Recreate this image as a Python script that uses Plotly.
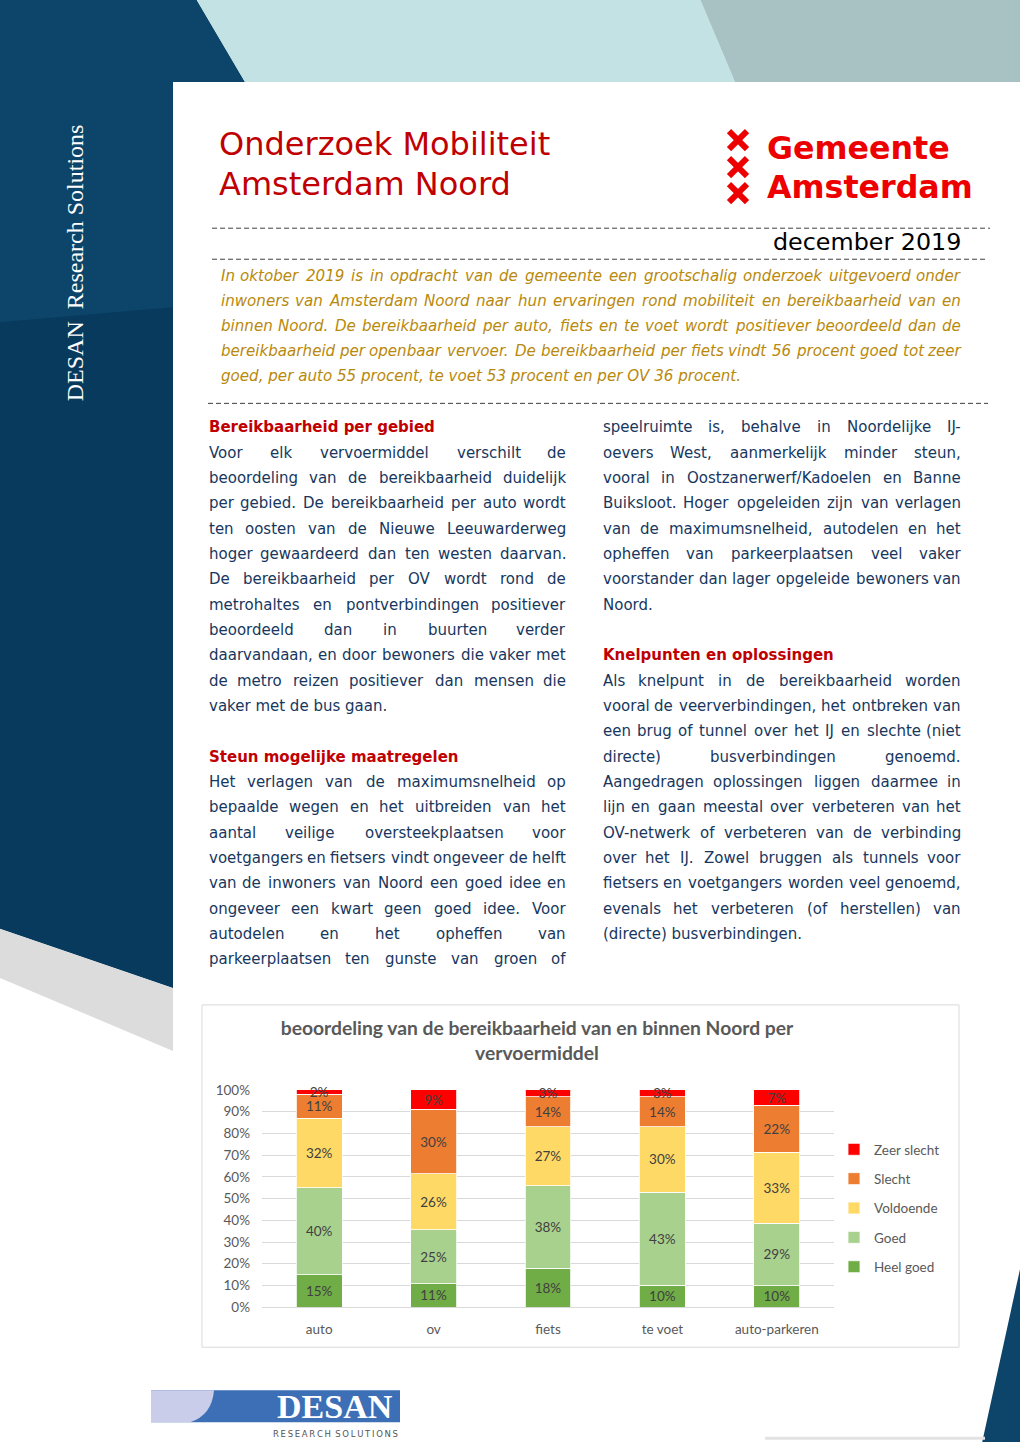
import plotly.graph_objects as go

# Page laid out in reference-pixel coordinates (1020 x 1442).
PAGE_W, PAGE_H = 1020, 1442
# vertical calibration of the photographed page (measured from earlier renders)
Y_OFF, Y_SCALE = 8.0, 0.988

# ------------------------------------------------------------------ data
categories = ["auto", "ov", "fiets", "te voet", "auto-parkeren"]
heel_goed = [15, 11, 18, 10, 10]
goed = [40, 25, 38, 43, 29]
voldoende = [32, 26, 27, 30, 33]
slecht = [11, 30, 14, 14, 22]
zeer_slecht = [2, 9, 3, 3, 7]
series_names = ["Heel goed", "Goed", "Voldoende", "Slecht", "Zeer slecht"]
series_values = [heel_goed, goed, voldoende, slecht, zeer_slecht]
series_colors = ["#70ad47", "#a9d18e", "#ffd966", "#ed7d31", "#ff0000"]
legend_ranks = [5, 4, 3, 2, 1]
y_tick_values = [0, 10, 20, 30, 40, 50, 60, 70, 80, 90, 100]
y_tick_labels = ["0%", "10%", "20%", "30%", "40%", "50%", "60%", "70%", "80%", "90%", "100%"]
chart_title = "beoordeling van de bereikbaarheid van en binnen Noord per<br>vervoermiddel"

title_lines = ["Onderzoek Mobiliteit", "Amsterdam Noord"]
logo_lines = ["Gemeente", "Amsterdam"]
date_text = "december 2019"
side_text = "DESAN  Research Solutions"
intro_lines = [
    "In oktober 2019 is in opdracht van de gemeente een grootschalig onderzoek uitgevoerd onder",
    "inwoners van Amsterdam Noord naar hun ervaringen rond mobiliteit en bereikbaarheid van en",
    "binnen Noord. De bereikbaarheid per auto, fiets en te voet wordt positiever beoordeeld dan de",
    "bereikbaarheid per openbaar vervoer. De bereikbaarheid per fiets vindt 56 procent goed tot zeer",
    "goed, per auto 55 procent, te voet 53 procent en per OV 36 procent.",
]
left_column = [
    ("h", "Bereikbaarheid per gebied"),
    ("j", "Voor elk vervoermiddel verschilt de"),
    ("j", "beoordeling van de bereikbaarheid duidelijk"),
    ("j", "per gebied. De bereikbaarheid per auto wordt"),
    ("j", "ten oosten van de Nieuwe Leeuwarderweg"),
    ("j", "hoger gewaardeerd dan ten westen daarvan."),
    ("j", "De bereikbaarheid per OV wordt rond de"),
    ("j", "metrohaltes en pontverbindingen positiever"),
    ("j", "beoordeeld dan in buurten verder"),
    ("j", "daarvandaan, en door bewoners die vaker met"),
    ("j", "de metro reizen positiever dan mensen die"),
    ("l", "vaker met de bus gaan."),
    ("", ""),
    ("h", "Steun mogelijke maatregelen"),
    ("j", "Het verlagen van de maximumsnelheid op"),
    ("j", "bepaalde wegen en het uitbreiden van het"),
    ("j", "aantal veilige oversteekplaatsen voor"),
    ("j", "voetgangers en fietsers vindt ongeveer de helft"),
    ("j", "van de inwoners van Noord een goed idee en"),
    ("j", "ongeveer een kwart geen goed idee. Voor"),
    ("j", "autodelen en het opheffen van"),
    ("j", "parkeerplaatsen ten gunste van groen of"),
]
right_column = [
    ("j", "speelruimte is, behalve in Noordelijke IJ-"),
    ("j", "oevers West, aanmerkelijk minder steun,"),
    ("j", "vooral in Oostzanerwerf/Kadoelen en Banne"),
    ("j", "Buiksloot. Hoger opgeleiden zijn van verlagen"),
    ("j", "van de maximumsnelheid, autodelen en het"),
    ("j", "opheffen van parkeerplaatsen veel vaker"),
    ("j", "voorstander dan lager opgeleide bewoners van"),
    ("l", "Noord."),
    ("", ""),
    ("h", "Knelpunten en oplossingen"),
    ("j", "Als knelpunt in de bereikbaarheid worden"),
    ("j", "vooral de veerverbindingen, het ontbreken van"),
    ("j", "een brug of tunnel over het IJ en slechte (niet"),
    ("j", "directe) busverbindingen genoemd."),
    ("j", "Aangedragen oplossingen liggen daarmee in"),
    ("j", "lijn en gaan meestal over verbeteren van het"),
    ("j", "OV-netwerk of verbeteren van de verbinding"),
    ("j", "over het IJ. Zowel bruggen als tunnels voor"),
    ("j", "fietsers en voetgangers worden veel genoemd,"),
    ("j", "evenals het verbeteren (of herstellen) van"),
    ("l", "(directe) busverbindingen."),
]

# ------------------------------------------------------------------ helpers
def px(x):
    return x / PAGE_W


def py(y):
    return 1 - ((y - Y_OFF) / Y_SCALE) / PAGE_H


CW = {" ": .318, ",": .318, ".": .318, "-": .361, "/": .337, "(": .390, ")": .390, "%": .950,
      "a": .613, "b": .635, "c": .550, "d": .635, "e": .615, "f": .352, "g": .635, "h": .634,
      "i": .278, "j": .278, "k": .579, "l": .278, "m": .974, "n": .634, "o": .612, "p": .635,
      "q": .635, "r": .411, "s": .521, "t": .392, "u": .634, "v": .592, "w": .818, "x": .592,
      "y": .592, "z": .525,
      "A": .684, "B": .686, "C": .698, "D": .770, "E": .632, "F": .575, "G": .775, "H": .752,
      "I": .295, "J": .295, "K": .656, "L": .557, "M": .863, "N": .748, "O": .787, "P": .603,
      "Q": .787, "R": .695, "S": .635, "T": .611, "U": .732, "V": .684, "W": .989, "X": .685,
      "Y": .611, "Z": .685}


def tw(s, size):
    return sum(CW.get(ch, .636) for ch in s) * size


annotations = []
shapes = []


def ann(text, x, y, size, color, family="DejaVu Sans", xanchor="left", angle=0):
    annotations.append(dict(text=text, x=px(x), y=py(y), xref="paper", yref="paper",
                            showarrow=False, xanchor=xanchor, yanchor="middle",
                            font=dict(family=family, size=size, color=color),
                            textangle=angle, borderpad=0))


def text_line(line, x0, x1, y, size, color, wrap=("", ""), justify=True):
    words = line.split()
    if not justify or len(words) < 2:
        ann(wrap[0] + line + wrap[1], x0, y, size, color)
        return
    widths = [tw(w, size) for w in words]
    gap = (x1 - x0 - sum(widths)) / (len(words) - 1)
    clamped = gap < 0.2 * size
    if clamped:
        gap = 0.2 * size
    x = x0
    for i, (w, ww) in enumerate(zip(words, widths)):
        t = wrap[0] + w + wrap[1]
        if i == 0:
            ann(t, x0, y, size, color, xanchor="left")
        elif i == len(words) - 1 and not clamped:
            ann(t, x1, y, size, color, xanchor="right")
        else:
            ann(t, x + ww / 2, y, size, color, xanchor="center")
        x += ww + gap


def poly(points, fill, layer="below"):
    d = "M " + " L ".join(f"{px(a):.5f},{py(b):.5f}" for a, b in points) + " Z"
    shapes.append(dict(type="path", path=d, xref="paper", yref="paper",
                       fillcolor=fill, line=dict(width=0), layer=layer))


def hline(x0, x1, y, color, width=1, dash="solid"):
    shapes.append(dict(type="line", x0=px(x0), x1=px(x1), y0=py(y), y1=py(y),
                       xref="paper", yref="paper", line=dict(color=color, width=width, dash=dash),
                       layer="below"))


def seg(xa, ya, xb, yb, color, width):
    shapes.append(dict(type="line", x0=px(xa), x1=px(xb), y0=py(ya), y1=py(yb),
                       xref="paper", yref="paper", line=dict(color=color, width=width),
                       layer="below"))


# ------------------------------------------------------------------ page decoration
NAVY = "#0d4469"
NAVY_DARK = "#073a5d"
poly([(0, -20), (185, -20), (245, 82), (173, 82), (173, 987), (0, 928)], NAVY)
poly([(0, 322), (173, 307), (173, 987), (0, 928)], NAVY_DARK)
poly([(0, 928), (173, 987), (173, 1050), (0, 977)], "#dcdcdc")
poly([(185, -20), (692, -20), (735, 82), (245, 82)], "#c3e2e4")
poly([(692, -20), (1020, -20), (1020, 82), (735, 82)], "#a8c2c3")
poly([(1020, 1268), (978, 1460), (1020, 1460)], NAVY)
hline(765, 985, 1437, "#e3e3e3", width=3)

# side text
ann(side_text, 75, 263, 24, "#ffffff", family="Liberation Serif", xanchor="center", angle=-90)

# title
ann(title_lines[0], 218, 144, 32, "#c00000")
ann(title_lines[1], 218, 184, 32, "#c00000")

# Gemeente Amsterdam logo
RED = "#ec0000"
for cy in (140, 167, 193):
    seg(729, cy - 9, 747, cy + 9, RED, 6)
    seg(747, cy - 9, 729, cy + 9, RED, 6)
ann("<b>" + logo_lines[0] + "</b>", 766, 148, 31.7, RED)
ann("<b>" + logo_lines[1] + "</b>", 766, 187, 31.7, RED)

# dashed rules and date
hline(212, 990, 228, "#404040", dash="5px,3px")
hline(212, 988, 259, "#404040", dash="5px,3px")
hline(208, 988, 403, "#404040", dash="5px,3px")
ann(date_text, 962, 242, 23.8, "#000000", xanchor="right")

# intro
GOLD = "#b8890b"
for i, line in enumerate(intro_lines):
    text_line(line, 220, 962, 276 + i * 25, 15.1, GOLD, wrap=("<i>", "</i>"),
              justify=(i < len(intro_lines) - 1))

# body columns
BODY = "#17375e"
HEAD = "#c00000"
BODY_SIZE = 15
for col, (x0, x1) in ((left_column, (208, 567)), (right_column, (602, 962))):
    for i, (kind, line) in enumerate(col):
        y = 427 + i * 25.3
        if kind == "h":
            ann("<b>" + line + "</b>", x0, y, BODY_SIZE, HEAD)
        elif kind == "j":
            text_line(line, x0, x1, y, BODY_SIZE, BODY, justify=True)
        elif kind == "l":
            text_line(line, x0, x1, y, BODY_SIZE, BODY, justify=False)

# chart frame
shapes.append(dict(type="rect", x0=px(202), x1=px(959), y0=py(1004), y1=py(1346),
                   xref="paper", yref="paper", line=dict(color="#d9d9d9", width=1),
                   fillcolor="#ffffff", layer="below"))

# DESAN logo (bottom)
poly([(151, 1389), (400, 1389), (400, 1421), (151, 1421)], "#3d6fb6")
d = (f"M {px(151):.5f},{py(1389):.5f} L {px(214):.5f},{py(1389):.5f} "
     f"Q {px(212):.5f},{py(1414):.5f} {px(190):.5f},{py(1421):.5f} "
     f"L {px(151):.5f},{py(1421):.5f} Z")
shapes.append(dict(type="path", path=d, xref="paper", yref="paper",
                   fillcolor="#c9cde9", line=dict(width=0), layer="below"))
ann("<b>DESAN</b>", 335, 1405, 34, "#ffffff", family="Liberation Serif", xanchor="center")
ann("\u2009".join("RESEARCH") + "\u2002" + "\u2009".join("SOLUTIONS"),
    335, 1433, 8.5, "#555555", xanchor="center")

# ------------------------------------------------------------------ chart
fig = go.Figure()
for name, vals, color, rank in zip(series_names, series_values, series_colors, legend_ranks):
    fig.add_trace(go.Bar(
        name=name, x=categories, y=vals,
        marker=dict(color=color, line=dict(color="#ffffff", width=0.8)),
        text=[f"{v}%" for v in vals], textposition="inside", insidetextanchor="middle",
        textangle=0, textfont=dict(family="Lato", size=13.5, color="#404040"),
        cliponaxis=False, legendgroup=name, legendrank=rank, hoverinfo="skip",
    ))

CHART_GREY = "#595959"
fig.update_layout(
    width=PAGE_W, height=PAGE_H, autosize=False,
    margin=dict(l=0, r=0, t=0, b=0, pad=0),
    paper_bgcolor="#ffffff", plot_bgcolor="rgba(0,0,0,0)",
    barmode="stack", barnorm="percent", bargap=0.598,
    uniformtext=dict(minsize=13.5, mode="show"),
    title=dict(text="<b>" + chart_title + "</b>", x=px(537), xanchor="center",
               xref="container", yref="container", y=py(1030.5), yanchor="middle",
               font=dict(family="Lato", size=19.3, color=CHART_GREY)),
    xaxis=dict(domain=[px(262), px(834)], type="category", showgrid=False,
               showline=True, linecolor="#d9d9d9", linewidth=1, ticks="",
               ticklabelstandoff=10, tickfont=dict(family="Lato", size=13.5, color=CHART_GREY),
               fixedrange=True),
    yaxis=dict(domain=[py(1306), py(1089)], range=[0, 100], tickvals=y_tick_values,
               ticktext=y_tick_labels, showgrid=True, gridcolor="#d9d9d9", gridwidth=1,
               zeroline=False, showline=False, ticks="", ticklabelstandoff=11,
               tickfont=dict(family="Lato", size=13.5, color=CHART_GREY), fixedrange=True),
    legend=dict(x=px(834), y=py(1133), xanchor="left", yanchor="top",
                traceorder="grouped", tracegroupgap=8.8,
                font=dict(family="Lato", size=13.5, color=CHART_GREY),
                bgcolor="rgba(0,0,0,0)"),
    showlegend=True,
    shapes=shapes,
    annotations=annotations,
)

fig.write_html("out.html", include_plotlyjs=True, config={"displayModeBar": False},
               post_script="document.body.style.margin='0';document.body.style.overflow='hidden';")
